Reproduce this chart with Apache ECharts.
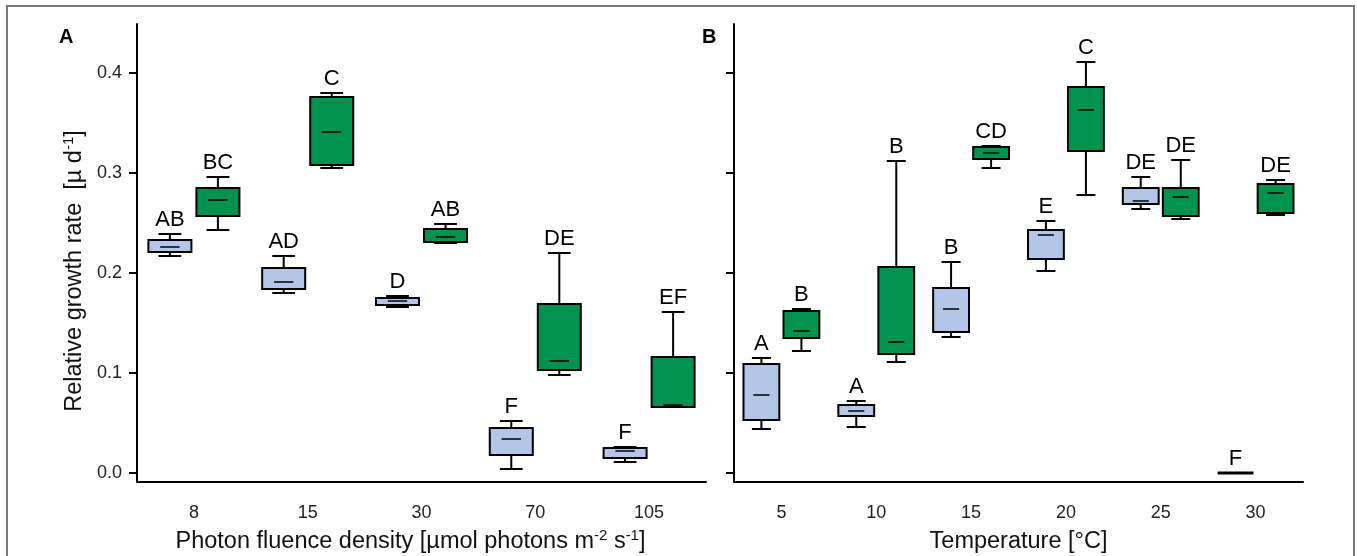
<!DOCTYPE html>
<html>
<head>
    <meta charset="utf-8">
    <title>Relative growth rate</title>
    <script src="https://cdn.jsdelivr.net/npm/echarts@6/dist/echarts.min.js"></script>
    <style>
        html, body { margin: 0; padding: 0; background: #fff; }
        #chart1 { width: 1357px; height: 556px; }
    </style>
</head>
<body>
<div id="chart1"></div>
<script>
    // panel A: photon fluence density
    var catsA = ['8', '15', '30', '70', '105'];
    // [min, Q1, median, Q3, max]
    var blueA = [
        [0.217, 0.221, 0.226, 0.233, 0.239],
        [0.180, 0.184, 0.191, 0.205, 0.217],
        [0.166, 0.168, 0.172, 0.175, 0.177],
        [0.004, 0.018, 0.034, 0.045, 0.052],
        [0.011, 0.015, 0.022, 0.025, 0.026]
    ];
    var greenA = [
        [0.243, 0.257, 0.273, 0.285, 0.296],
        [0.305, 0.308, 0.341, 0.376, 0.380],
        [0.230, 0.231, 0.236, 0.244, 0.249],
        [0.098, 0.103, 0.112, 0.169, 0.220],
        [0.066, 0.066, 0.068, 0.116, 0.161]
    ];
    var blueLabA = ['AB', 'AD', 'D', 'F', 'F'];
    var greenLabA = ['BC', 'C', 'AB', 'DE', 'EF'];

    // panel B: temperature
    var catsB = ['5', '10', '15', '20', '25', '30'];
    var blueB = [
        [0.044, 0.053, 0.078, 0.109, 0.115],
        [0.046, 0.057, 0.062, 0.068, 0.072],
        [0.136, 0.141, 0.164, 0.185, 0.211],
        [0.202, 0.214, 0.238, 0.243, 0.252],
        [0.264, 0.269, 0.272, 0.285, 0.296],
        [0, 0, 0, 0, 0]
    ];
    var greenB = [
        [0.122, 0.135, 0.142, 0.162, 0.164],
        [0.111, 0.119, 0.131, 0.206, 0.312],
        [0.305, 0.314, 0.320, 0.326, 0.327],
        [0.278, 0.322, 0.363, 0.386, 0.411],
        [0.254, 0.257, 0.276, 0.285, 0.313],
        [0.258, 0.260, 0.280, 0.289, 0.293]
    ];
    var blueLabB = ['A', 'A', 'B', 'E', 'DE', 'F'];
    var greenLabB = ['B', 'B', 'CD', 'C', 'DE', 'DE'];

    var yTicks = [0, 0.1, 0.2, 0.3, 0.4];

    var FONT = 'Liberation Sans, Arial, sans-serif';
    var BLUE = '#b4c6e7';
    var GREEN = '#00924e';

    function toData(stats) {
        return stats.map(function (s, i) { return [i].concat(s); });
    }

    // box with whiskers, caps, median and letter on top
    function boxRenderer(side, color, labels) {
        return function (params, api) {
            var cat = api.value(0);
            var band = api.size([1, 0])[0];
            var cx = api.coord([cat, 0])[0] + side * band * 0.211;
            var w = band * 0.378;
            var cap = w * 0.53;
            var med = w * 0.45;
            var y = function (k) { return api.coord([cat, api.value(k)])[1]; };
            var yLo = y(1), yQ1 = y(2), yMed = y(3), yQ3 = y(4), yHi = y(5);
            var ln = { stroke: '#000', lineWidth: 2 };
            var kids = [
                { type: 'line', shape: { x1: cx, y1: yHi, x2: cx, y2: yQ3 }, style: ln },
                { type: 'line', shape: { x1: cx, y1: yQ1, x2: cx, y2: yLo }, style: ln },
                { type: 'line', shape: { x1: cx - cap / 2, y1: yHi, x2: cx + cap / 2, y2: yHi }, style: ln },
                { type: 'line', shape: { x1: cx - cap / 2, y1: yLo, x2: cx + cap / 2, y2: yLo }, style: ln }
            ];
            if (yQ1 - yQ3 < 1) {
                // collapsed box: just a flat bar
                kids.push({ type: 'line', shape: { x1: cx - w / 2, y1: yMed, x2: cx + w / 2, y2: yMed }, style: { stroke: '#000', lineWidth: 3 } });
            } else {
                kids.push({
                    type: 'rect',
                    shape: { x: cx - w / 2, y: yQ3, width: w, height: yQ1 - yQ3 },
                    style: { fill: color, stroke: '#000', lineWidth: 2 }
                });
                kids.push({ type: 'line', shape: { x1: cx - med / 2, y1: yMed, x2: cx + med / 2, y2: yMed }, style: { stroke: '#000', lineWidth: 1.5 } });
            }
            kids.push({
                type: 'text',
                style: {
                    text: labels[params.dataIndex], x: cx, y: yHi - 3,
                    align: 'center', verticalAlign: 'bottom',
                    fontSize: 22, fontFamily: FONT, fill: '#000'
                }
            });
            return { type: 'group', children: kids };
        };
    }

    var richTitle = {
        a: { fontSize: 23.5, fontFamily: FONT, color: '#111', lineHeight: 28 },
        s: { fontSize: 15, fontFamily: FONT, color: '#111', lineHeight: 14, verticalAlign: 'top' }
    };

    function xAxisOf(idx, cats, name, pad) {
        return {
            type: 'category', gridIndex: idx, data: cats, boundaryGap: true,
            axisLine: { onZero: false, lineStyle: { color: '#000', width: 2 } },
            axisTick: { alignWithLabel: true, length: 8, lineStyle: { color: '#000', width: 2 } },
            axisLabel: { fontSize: 18, fontFamily: FONT, color: '#222', margin: 22 },
            splitLine: { show: false },
            name: name, nameLocation: 'middle', nameGap: 46,
            nameTextStyle: { fontFamily: FONT, color: '#111', rich: richTitle, padding: pad }
        };
    }

    function yAxisOf(idx, showLabel) {
        var ax = {
            type: 'value', gridIndex: idx, min: -0.009, max: 0.449,
            axisLine: { show: true, lineStyle: { color: '#000', width: 2 } },
            axisTick: { show: true, length: 8, customValues: yTicks, lineStyle: { color: '#000', width: 2 } },
            axisLabel: {
                show: showLabel, customValues: yTicks, fontSize: 18, fontFamily: FONT, color: '#222', margin: 15,
                formatter: function (v) { return v.toFixed(1); }
            },
            splitLine: { show: false }
        };
        if (showLabel) {
            ax.name = '{a|Relative growth rate  [µ d}{s|-1}{a|]}';
            ax.nameLocation = 'middle';
            ax.nameRotate = 90;
            ax.nameGap = 48;
            ax.nameTextStyle = { fontFamily: FONT, color: '#111', padding: [0, 36, 0, 0], rich: richTitle };
        }
        return ax;
    }

    var myChart = echarts.init(document.getElementById('chart1'));
    var option = {
        backgroundColor: '#fff',
        animation: false,
        title: [
            { text: 'A', left: 54, top: 22, textStyle: { fontSize: 20, fontWeight: 'bold', fontFamily: FONT, color: '#000' } },
            { text: 'B', left: 697, top: 22, textStyle: { fontSize: 20, fontWeight: 'bold', fontFamily: FONT, color: '#000' } }
        ],
        graphic: [{
            type: 'rect', shape: { x: 7, y: 6, width: 1347, height: 560 },
            style: { fill: 'none', stroke: '#777', lineWidth: 2 }, silent: true
        }],
        grid: [
            { left: 137, top: 24, width: 569, height: 458, outerBoundsMode: 'none' },
            { left: 734, top: 24, width: 569, height: 458, outerBoundsMode: 'none' }
        ],
        xAxis: [
            xAxisOf(0, catsA, '{a|Photon fluence density [µmol photons m}{s|-2}{a| s}{s|-1}{a|]}', [0, 22, 0, 0]),
            xAxisOf(1, catsB, '{a|Temperature [°C]}', [0, 0, 0, 0])
        ],
        yAxis: [yAxisOf(0, true), yAxisOf(1, false)],
        series: [
            { type: 'custom', xAxisIndex: 0, yAxisIndex: 0, data: toData(blueA), encode: { x: 0, y: [1, 2, 3, 4, 5] }, renderItem: boxRenderer(-1, BLUE, blueLabA) },
            { type: 'custom', xAxisIndex: 0, yAxisIndex: 0, data: toData(greenA), encode: { x: 0, y: [1, 2, 3, 4, 5] }, renderItem: boxRenderer(1, GREEN, greenLabA) },
            { type: 'custom', xAxisIndex: 1, yAxisIndex: 1, data: toData(blueB), encode: { x: 0, y: [1, 2, 3, 4, 5] }, renderItem: boxRenderer(-1, BLUE, blueLabB) },
            { type: 'custom', xAxisIndex: 1, yAxisIndex: 1, data: toData(greenB), encode: { x: 0, y: [1, 2, 3, 4, 5] }, renderItem: boxRenderer(1, GREEN, greenLabB) }
        ]
    };
    myChart.setOption(option);
</script>
</body>
</html>
